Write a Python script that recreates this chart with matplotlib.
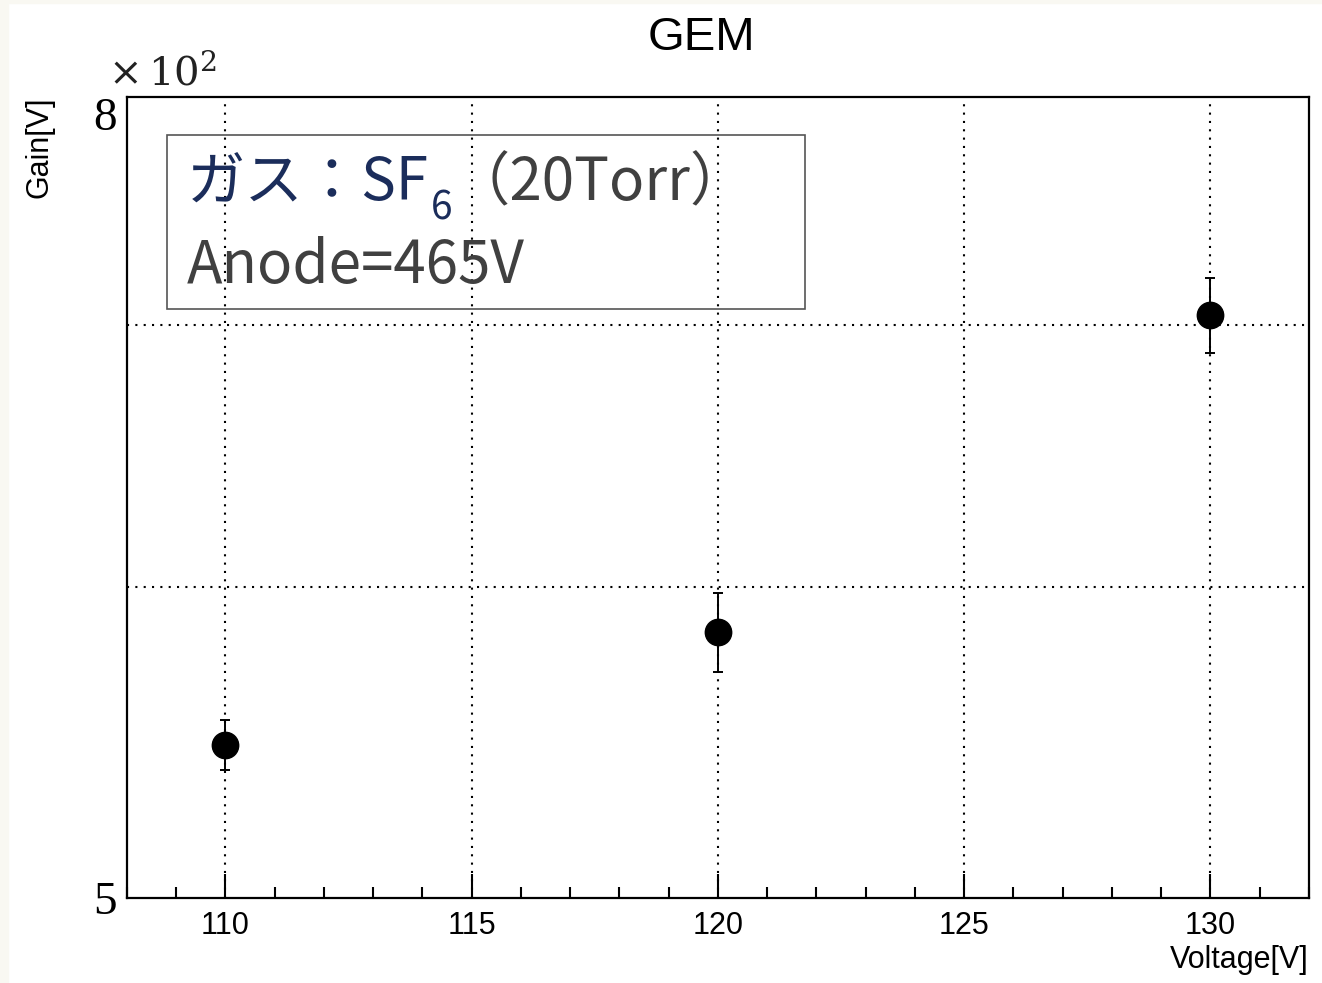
import matplotlib
matplotlib.use("Agg")
import matplotlib.pyplot as plt
from matplotlib.patches import Rectangle
from matplotlib.ticker import FixedLocator, MultipleLocator, NullFormatter

plt.rcParams['mathtext.fontset'] = 'dejavuserif'

# measured gain vs. GEM voltage
voltage = [110, 120, 130]
gain = [547, 584.5, 704]
gain_err = [8, 13.5, 15.5]

gas_label = "ガス：SF"
gas_sub = "6"
pressure_label = "（20Torr）"
anode_label = "Anode=465V"

cjk = ['Noto Sans CJK JP', 'DejaVu Sans']
navy = '#1b2d5b'
grey = '#404040'

W, H = 1322, 983
fig = plt.figure(figsize=(W / 100, H / 100), dpi=100)
fig.patches.append(Rectangle((0, 0), 8 / W, 1, transform=fig.transFigure,
                             color='#f9f8f2', zorder=0))
fig.patches.append(Rectangle((0, 1 - 3 / H), 1, 3 / H, transform=fig.transFigure,
                             color='#f9f8f2', zorder=0))

ax = fig.add_axes([127 / W, (H - 898) / H, 1182 / W, 801 / H])

ax.errorbar(voltage, gain, yerr=gain_err, fmt='o', color='k', ms=19,
            elinewidth=1.4, capsize=3.5, capthick=1.4, zorder=5)

ax.set_xlim(108, 132)
ax.set_yscale('log')
ax.set_ylim(500, 800)

ax.xaxis.set_major_locator(MultipleLocator(5))
ax.xaxis.set_minor_locator(MultipleLocator(1))
ax.tick_params(axis='x', which='both', direction='in', top=False, width=1.5,
               labelsize=22, pad=9)
ax.tick_params(axis='x', which='major', length=17)
ax.tick_params(axis='x', which='minor', length=8)
for lab in ax.get_xticklabels():
    lab.set_family('Liberation Sans')

ax.set_yticks([500, 800], labels=['5', '8'])
ax.yaxis.set_minor_locator(FixedLocator([600, 700]))
ax.yaxis.set_minor_formatter(NullFormatter())
ax.tick_params(axis='y', which='both', length=0, pad=7, labelsize=34)
ylabs = ax.get_yticklabels()
for lab in ylabs:
    lab.set_family('Liberation Serif')
ylabs[1].set_va('top')

dots = (0, (1, 3))
ax.grid(True, axis='x', which='major', ls=dots, color='k', lw=1.5)
ax.grid(True, axis='y', which='minor', ls=dots, color='k', lw=1.5)

for s in ax.spines.values():
    s.set_linewidth(1.6)

ax.text(-0.016, 1.015, r'$\times\,10^{2}$', transform=ax.transAxes,
        fontsize=29, color='#222222', va='baseline', ha='left')

ax.text(0.4856, 1.0587, 'GEM', transform=ax.transAxes, fontsize=34,
        family='Liberation Sans', ha='center', va='baseline')

ax.set_xlabel('Voltage[V]', loc='right', fontsize=22, family='Liberation Sans',
              labelpad=3)
ax.set_ylabel('Gain[V]', loc='top', fontsize=22, family='Liberation Sans')
ax.yaxis.set_label_coords(-0.061, 1.0)

# info box
ax.add_patch(Rectangle((0.0338, 0.7353), 0.5398, 0.2173, transform=ax.transAxes,
                       fill=False, edgecolor='#555555', lw=1.2, zorder=6))
t1 = ax.text(0.0508, 0.871, gas_label, transform=ax.transAxes, fontsize=42,
             family=cjk, color=navy, va='baseline', zorder=7)
t2 = ax.annotate(gas_sub, xy=(1, 0), xycoords=t1, xytext=(1, -10),
                 textcoords='offset points', fontsize=28, family=cjk,
                 color=navy, va='bottom', zorder=7)
ax.annotate(pressure_label, xy=(1, 0), xycoords=(t2, t1), fontsize=42,
            family=cjk, color=grey, va='bottom', zorder=7)
ax.text(0.0508, 0.768, anode_label, transform=ax.transAxes, fontsize=42,
        family=cjk, color=grey, va='baseline', zorder=7)

fig.savefig('out.png', dpi=100)
